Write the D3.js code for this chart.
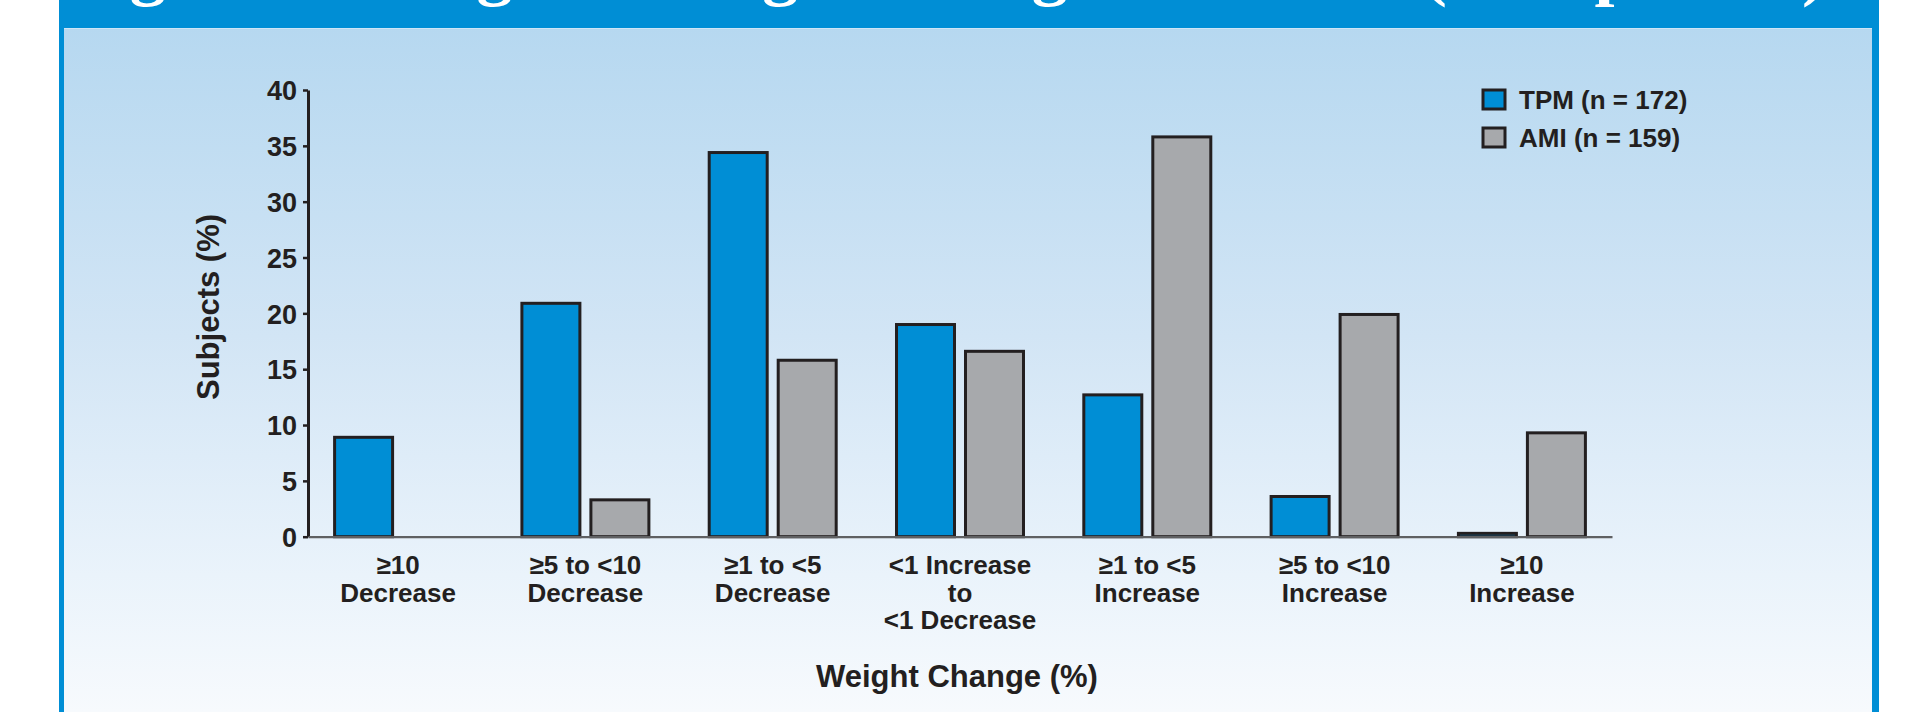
<!DOCTYPE html>
<html>
<head>
<meta charset="utf-8">
<script src="https://cdn.jsdelivr.net/npm/d3@7"></script>
<style>
  html, body { margin: 0; padding: 0; background: #ffffff; }
  svg { display: block; }
  text { font-family: "Liberation Sans", Arial, Helvetica, sans-serif; }
</style>
</head>
<body>
<svg id="chart" width="1918" height="712"></svg>
<script>
// ---- data ----
const categories = ["≥10 Decrease", "≥5 to <10 Decrease", "≥1 to <5 Decrease",
  "<1 Increase to <1 Decrease", "≥1 to <5 Increase", "≥5 to <10 Increase", "≥10 Increase"];
const categoryLines = [
  ["≥10", "Decrease"],
  ["≥5 to <10", "Decrease"],
  ["≥1 to <5", "Decrease"],
  ["<1 Increase", "to", "<1 Decrease"],
  ["≥1 to <5", "Increase"],
  ["≥5 to <10", "Increase"],
  ["≥10", "Increase"]
];
const seriesNames = ["TPM", "AMI"];
const seriesLabels = ["TPM (n = 172)", "AMI (n = 159)"];
const tpmValues = [8.9, 20.9, 34.4, 19.0, 12.7, 3.6, 0.3];
const amiValues = [0, 3.3, 15.8, 16.6, 35.8, 19.9, 9.3];
const yTicks = [0, 5, 10, 15, 20, 25, 30, 35, 40];
const titleText = "Figure 3. Weight Change During Treatment (Completers)";
const xTitle = "Weight Change (%)";
const yTitle = "Subjects (%)";

// ---- styling ----
const BLUE = "#008ed5";
const GREY = "#a7a9ac";
const INK = "#231f20";
const colors = { TPM: BLUE, AMI: GREY };
const valuesBySeries = { TPM: tpmValues, AMI: amiValues };

const svg = d3.select("#chart");

// frame & panel
const defs = svg.append("defs");
const grad = defs.append("linearGradient").attr("id", "panelGrad")
  .attr("x1", 0).attr("y1", 0).attr("x2", 0).attr("y2", 1);
grad.append("stop").attr("offset", "0%").attr("stop-color", "#b6d8f0");
grad.append("stop").attr("offset", "45%").attr("stop-color", "#d2e5f5");
grad.append("stop").attr("offset", "80%").attr("stop-color", "#eaf3fb");
grad.append("stop").attr("offset", "100%").attr("stop-color", "#f7fafd");

svg.append("rect").attr("x", 59).attr("y", 28).attr("width", 1820).attr("height", 684)
  .attr("fill", "url(#panelGrad)");
svg.append("rect").attr("x", 59).attr("y", 0).attr("width", 1820).attr("height", 28).attr("fill", BLUE);
svg.append("rect").attr("x", 59).attr("y", 28).attr("width", 5).attr("height", 684).attr("fill", BLUE);
svg.append("rect").attr("x", 1872).attr("y", 28).attr("width", 7).attr("height", 684).attr("fill", BLUE);
svg.append("line").attr("x1", 64).attr("x2", 1872).attr("y1", 28.5).attr("y2", 28.5)
  .attr("stroke", "#cfe5f6").attr("stroke-width", 1);

// title (mostly cropped off at the top like the reference)
svg.append("text")
  .attr("x", 66).attr("y", -7)
  .attr("textLength", 1760).attr("lengthAdjust", "spacingAndGlyphs")
  .style("font-family", "'Liberation Serif', 'Times New Roman', serif")
  .style("font-weight", "bold").style("font-size", "68px")
  .attr("fill", "#ffffff")
  .text(titleText);

// ---- scales ----
const y = d3.scaleLinear().domain([0, 40]).range([536.7, 90]);
const x0 = d3.scaleBand().domain(categories).range([308, 1612])
  .paddingInner(0.306).paddingOuter(0.134);
const x1 = d3.scaleBand().domain(seriesNames).range([0, x0.bandwidth()]).paddingInner(0.116);

const SW = 3;

// ---- bars ----
const groups = svg.append("g").selectAll("g")
  .data(categories)
  .join("g")
  .attr("transform", d => `translate(${x0(d)},0)`);

groups.selectAll("rect")
  .data((d, i) => seriesNames.map(s => ({ s, v: valuesBySeries[s][i] })).filter(o => o.v > 0))
  .join("rect")
  .attr("x", d => x1(d.s) + SW / 2)
  .attr("width", x1.bandwidth() - SW)
  .attr("y", d => y(d.v))
  .attr("height", d => y(0) - y(d.v))
  .attr("fill", d => colors[d.s])
  .attr("stroke", INK)
  .attr("stroke-width", SW);

// ---- y axis ----
const yAxis = svg.append("g")
  .attr("transform", "translate(308,0)")
  .call(d3.axisLeft(y).tickValues(yTicks).tickSize(5).tickSizeOuter(0).tickPadding(6));
yAxis.select(".domain").attr("stroke", INK).attr("stroke-width", 3);
yAxis.selectAll(".tick line").attr("stroke", INK).attr("stroke-width", 2.5);
yAxis.selectAll(".tick text")
  .style("font-size", "27px").style("font-weight", "bold").attr("fill", INK)
  .attr("dy", "0.36em");

// ---- x axis ----
const xAxis = svg.append("g")
  .attr("transform", `translate(0,${y(0)})`)
  .call(d3.axisBottom(x0).tickSize(0).tickSizeOuter(0).tickPadding(0).tickFormat(""));
xAxis.select(".domain").attr("stroke", "#5f6062").attr("stroke-width", 2.2);
xAxis.selectAll(".tick").each(function (d, i) {
  const t = d3.select(this).select("text")
    .attr("y", 0).attr("dy", null)
    .style("font-size", "26px").style("font-weight", "bold").attr("fill", INK);
  categoryLines[i].forEach((line, k) => {
    t.append("tspan").attr("x", 0).attr("y", 37.3 + k * 27.7).text(line);
  });
});

// ---- axis titles ----
svg.append("text")
  .attr("x", 957).attr("y", 687)
  .attr("text-anchor", "middle")
  .style("font-size", "31px").style("font-weight", "bold").attr("fill", INK)
  .text(xTitle);

svg.append("text")
  .attr("transform", "translate(219,307) rotate(-90)")
  .attr("text-anchor", "middle")
  .style("font-size", "31px").style("font-weight", "bold").attr("fill", INK)
  .text(yTitle);

// ---- legend ----
const legend = svg.append("g").attr("transform", "translate(1483,90)");
const li = legend.selectAll("g").data(seriesNames).join("g")
  .attr("transform", (d, i) => `translate(0,${i * 38})`);
li.append("rect")
  .attr("x", 0).attr("y", 0).attr("width", 22).attr("height", 19)
  .attr("fill", d => colors[d]).attr("stroke", INK).attr("stroke-width", 3);
li.append("text")
  .attr("x", 36).attr("y", 19)
  .style("font-size", "26px").style("font-weight", "bold").attr("fill", INK)
  .text((d, i) => seriesLabels[i]);
</script>
</body>
</html>
